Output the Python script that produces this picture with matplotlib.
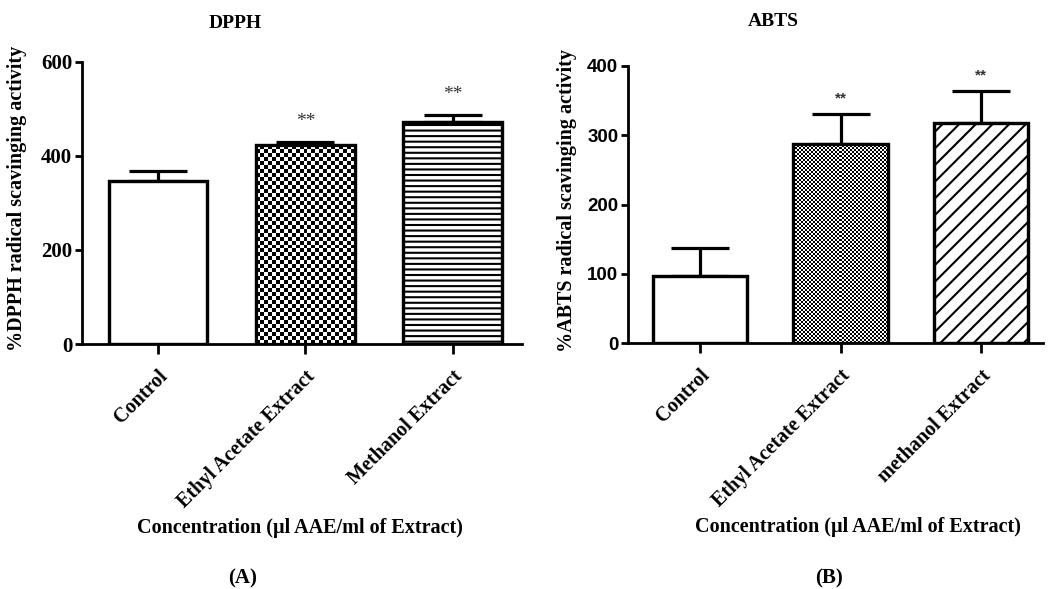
import numpy as np
import matplotlib
matplotlib.use("Agg")
import matplotlib.pyplot as plt

plt.rcParams['hatch.linewidth'] = 1.5

# ---- data ----
categories_a = ["Control", "Ethyl Acetate Extract", "Methanol Extract"]
dpph_mean = [347, 423, 473]
dpph_err = [21, 7, 14]
dpph_sig = ["", "**", "**"]

categories_b = ["Control", "Ethyl Acetate Extract", "methanol Extract"]
abts_mean = [97, 287, 318]
abts_err = [41, 44, 46]
abts_sig = ["", "**", "**"]

yticks_a = [0, 200, 400, 600]
yticks_b = [0, 100, 200, 300, 400]

SERIF = 'Liberation Serif'
SANS = 'Liberation Sans'

W, H = 1054, 589
fig = plt.figure(figsize=(W / 100, H / 100), dpi=100)


def px_axes(x0, y_top, x1, y_bot):
    return fig.add_axes([x0 / W, 1 - y_bot / H, (x1 - x0) / W, (y_bot - y_top) / H])


ax1 = px_axes(82, 62, 522, 344)
ax2 = px_axes(628, 65.7, 1043, 343.3)


def checker_fill(ax, bar, cell_px):
    x0, y0 = bar.get_x(), bar.get_y()
    w, h = bar.get_width(), bar.get_height()
    p0 = ax.transData.transform((x0, y0))
    p1 = ax.transData.transform((x0 + w, y0 + h))
    nx = max(1, int(round((p1[0] - p0[0]) / cell_px)))
    ny = max(1, int(round((p1[1] - p0[1]) / cell_px)))
    arr = np.add.outer(np.arange(ny), np.arange(nx)) % 2
    im = ax.imshow(arr, cmap='gray', vmin=0, vmax=1, extent=(x0, x0 + w, y0, y0 + h),
                   origin='lower', interpolation='nearest', aspect='auto', zorder=2)
    im.set_clip_path(bar)


def panel(ax, cats, means, errs, sigs, yticks, xlim, tick_font, tick_size,
          fills, star_font, star_size, star_off, star_weight):
    x = np.arange(len(cats))
    ax.set_xlim(*xlim)
    ax.set_ylim(yticks[0], yticks[-1])
    bars = ax.bar(x, means, width=0.67, color='white', edgecolor='black',
                  linewidth=2.3, zorder=1)
    for b, f in zip(bars, fills):
        if f[0] == 'checker':
            checker_fill(ax, b, f[1])
        elif f[0] == 'hatch':
            b.set_hatch(f[1])
    ax.bar(x, means, width=0.67, fill=False, edgecolor='black', linewidth=2.3, zorder=3)
    ax.errorbar(x, means, yerr=[np.zeros(len(errs)), errs], fmt='none', ecolor='black',
                elinewidth=2.3, capsize=21, capthick=2.3, zorder=0)
    for xi, m, e, s in zip(x, means, errs, sigs):
        if s:
            ax.annotate(s, xy=(xi, m + e), xytext=(0, star_off), textcoords='offset points',
                        ha='center', va='center', fontsize=star_size, family=star_font,
                        fontweight=star_weight, color='#333333')
    ax.set_ylim(yticks[0], yticks[-1])
    ax.set_xlim(*xlim)
    ax.set_yticks(yticks)
    ax.set_yticklabels([str(t) for t in yticks], family=tick_font, fontsize=tick_size,
                       fontweight='bold')
    ax.set_xticks(x)
    ax.set_xticklabels(cats, rotation=45, ha='right', rotation_mode='anchor',
                       family=SERIF, fontsize=14.5, fontweight='bold')
    for sp in ['top', 'right']:
        ax.spines[sp].set_visible(False)
    for sp in ['left', 'bottom']:
        ax.spines[sp].set_linewidth(2)
    ax.tick_params(axis='y', direction='out', length=5, width=2, pad=2)
    ax.tick_params(axis='x', direction='out', length=7, width=2, pad=9)


panel(ax1, categories_a, dpph_mean, dpph_err, dpph_sig, yticks_a, (-0.515, 2.47),
      SERIF, 15, [('none',), ('checker', 4), ('hatch', '---')],
      SERIF, 14, 15, 'normal')
panel(ax2, categories_b, abts_mean, abts_err, abts_sig, yticks_b, (-0.512, 2.44),
      SANS, 13.5, [('none',), ('checker', 2), ('hatch', '//')],
      SANS, 11, 11, 'bold')


def ftext(x, y, s, **kw):
    fig.text(x / W, 1 - y / H, s, ha='center', va='center', family=SERIF,
             fontweight='bold', **kw)


ftext(235, 23, "DPPH", fontsize=14)
ftext(773, 22, "ABTS", fontsize=14)
ftext(17, 198, "%DPPH radical scavinging activity", fontsize=14.5, rotation=90)
ftext(567, 200, "%ABTS radical scavinging activity", fontsize=14.5, rotation=90)
ftext(300, 528, "Concentration (\u00b5l AAE/ml of Extract)", fontsize=14.5)
ftext(858, 527, "Concentration (\u00b5l AAE/ml of Extract)", fontsize=14.5)
ftext(243, 578, "(A)", fontsize=15)
ftext(829, 578, "(B)", fontsize=15)

fig.savefig("out.png", dpi=100, facecolor='white')
